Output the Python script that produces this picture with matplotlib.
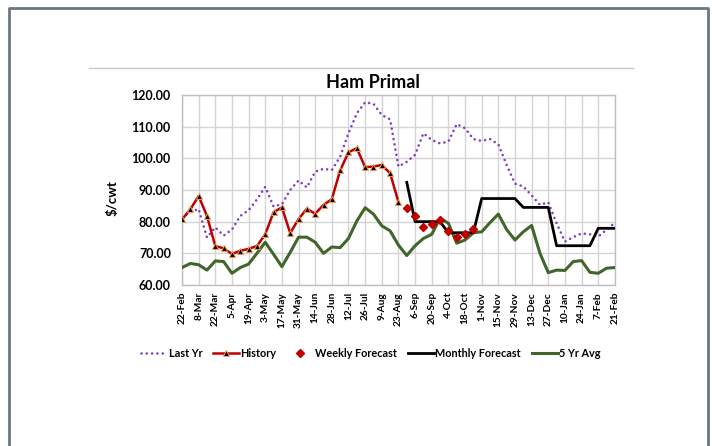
import matplotlib
matplotlib.use("Agg")
import matplotlib.pyplot as plt
from matplotlib.lines import Line2D
import numpy as np

plt.rcParams['font.family'] = ['Lato', 'DejaVu Sans']

tick_labels = ["22-Feb", "8-Mar", "22-Mar", "5-Apr", "19-Apr", "3-May", "17-May", "31-May",
               "14-Jun", "28-Jun", "12-Jul", "26-Jul", "9-Aug", "23-Aug", "6-Sep", "20-Sep",
               "4-Oct", "18-Oct", "1-Nov", "15-Nov", "29-Nov", "13-Dec", "27-Dec", "10-Jan",
               "24-Jan", "7-Feb", "21-Feb"]
n_weeks = 53
weeks = np.arange(n_weeks)

last_yr = [81.3, 83.0, 84.0, 75.0, 78.2, 75.6, 77.5, 81.8, 83.6, 87.0, 91.0, 84.8, 85.5, 90.0,
           93.0, 90.8, 95.8, 96.7, 96.3, 100.5, 107.9, 114.2, 117.7, 117.2, 113.7, 112.3, 97.4,
           98.9, 101.1, 107.9, 105.8, 104.7, 105.3, 110.8, 109.5, 106.1, 105.5, 106.1, 104.4,
           97.9, 92.0, 91.1, 88.3, 85.3, 86.1, 79.5, 73.7, 75.1, 76.3, 76.0, 75.3, 77.4, 79.7]

history = [80.7, 83.9, 88.1, 81.8, 72.3, 71.6, 69.8, 70.8, 71.4, 72.3, 76.0, 83.0, 84.5, 76.4,
           80.8, 84.1, 82.5, 85.3, 87.1, 96.2, 101.9, 103.2, 97.2, 97.4, 97.9, 95.3, 86.2]

weekly_idx = [27, 28, 29, 30, 31, 32, 33, 34, 35]
weekly_fc = [84.4, 81.8, 78.4, 79.3, 80.5, 77.2, 75.3, 76.0, 77.6]

monthly_idx = list(range(27, 53))
monthly_fc = [92.4, 80.0, 80.0, 80.0, 80.0, 76.5, 76.5, 76.5, 76.5, 87.3, 87.3, 87.3, 87.3,
              87.3, 84.5, 84.5, 84.5, 84.5, 72.4, 72.4, 72.4, 72.4, 72.4, 77.9, 77.9, 77.9]

avg5 = [65.5, 66.8, 66.4, 64.7, 67.6, 67.4, 63.7, 65.5, 66.6, 70.0, 73.5, 69.7, 65.8, 70.3,
        75.1, 75.1, 73.5, 70.0, 72.0, 71.8, 74.7, 80.2, 84.4, 82.4, 78.7, 77.1, 72.6,
        69.3, 72.4, 74.7, 76.0, 81.1, 79.5, 73.2, 74.2, 76.5, 76.8, 79.7, 82.4, 77.5,
        74.2, 76.8, 78.8, 70.0, 63.9, 64.7, 64.6, 67.4, 67.7, 64.0, 63.7, 65.3, 65.5]

c_purple = '#8040C0'
c_red = '#C00000'
c_green = '#41662B'

fig = plt.figure(figsize=(7.12, 4.46), dpi=100)
ax = fig.add_axes([0.2556, 0.361, 0.6080, 0.426])

ax.plot(weeks, last_yr, color=c_purple, lw=1.9, linestyle=(0, (0.01, 2.0)),
        dash_capstyle='round', zorder=3)
ax.plot(weeks[:len(history)], history, color=c_red, lw=1.8, marker='^', markersize=4,
        markerfacecolor='black', markeredgecolor='#F79646', markeredgewidth=0.7, zorder=4)
ax.plot(weekly_idx, weekly_fc, linestyle='none', marker='D', markersize=3.8,
        color=c_red, zorder=5)
ax.plot(monthly_idx, monthly_fc, color='black', lw=2.0, zorder=4)
ax.plot(weeks, avg5, color=c_green, lw=2.2, zorder=3)

ax.set_xlim(0, n_weeks - 1)
ax.set_ylim(60, 120)
ax.set_xticks(np.arange(0, n_weeks, 2))
ax.set_xticklabels(tick_labels, rotation=90, fontsize=7.3, fontweight='bold')
ax.set_yticks(np.arange(60, 121, 10))
ax.set_yticklabels([f"{v:.2f}" for v in np.arange(60, 121, 10)], fontsize=9, fontweight='bold')
ax.tick_params(axis='y', length=0, pad=8)
ax.tick_params(axis='x', length=0, pad=5)
ax.grid(True, color='#D4D4D4', lw=1.0)
ax.set_axisbelow(True)
for s in ax.spines.values():
    s.set_color('#BFBFBF')
    s.set_linewidth(1.0)

fig.text(373 / 712, 1 - 82 / 446, "Ham Primal", fontsize=13, fontweight='bold',
         ha='center', va='center')
fig.text(0.158, 0.556, "$/cwt", rotation=90, fontsize=9.5, fontweight='bold',
         ha='center', va='center')

handles = [
    Line2D([], [], color=c_purple, lw=1.9, linestyle=(0, (0.01, 2.0)), dash_capstyle='round'),
    Line2D([], [], color=c_red, lw=1.8, marker='^', markersize=4, markerfacecolor='black',
           markeredgecolor='#F79646', markeredgewidth=0.7),
    Line2D([], [], linestyle='none', marker='D', markersize=3.8, color=c_red),
    Line2D([], [], color='black', lw=2.0),
    Line2D([], [], color=c_green, lw=2.2),
]
labels = ["Last Yr", "History", "Weekly Forecast", "Monthly Forecast", "5 Yr Avg"]
fig.legend(handles, labels, loc='center', bbox_to_anchor=(0.521, 0.208), ncol=5,
           frameon=False, prop={'size': 7.8, 'weight': 'bold'}, handlelength=2.4,
           handletextpad=0.15, columnspacing=1.0)

# decorative separator line and page border
fig.add_artist(Line2D([89 / 712, 633 / 712], [1 - 68 / 446, 1 - 68 / 446],
                      transform=fig.transFigure, color='#C8C8C8', lw=1.0))
bx0, bx1, by1 = 9 / 712, 707.5 / 712, 1 - 7.5 / 446
fig.add_artist(Line2D([bx0, bx0, bx1, bx1], [0, by1, by1, 0],
                      transform=fig.transFigure, color='#6B7785', lw=2.0))

fig.savefig("out.png", dpi=100)
